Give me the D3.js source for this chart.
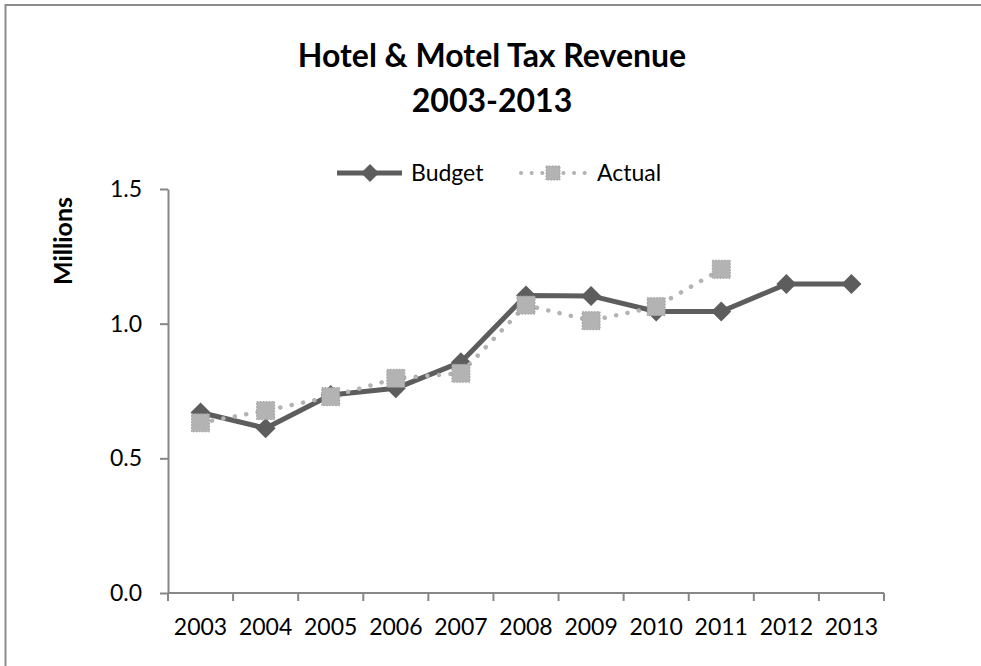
<!DOCTYPE html>
<html>
<head>
<meta charset="utf-8">
<script src="https://cdn.jsdelivr.net/npm/d3@7"></script>
<style>
  html, body { margin: 0; padding: 0; background: #fff; }
  svg { display: block; }
  text { font-family: Lato, "Open Sans", sans-serif; fill: #000; }
</style>
</head>
<body>
<svg id="chart" width="981" height="666"></svg>
<script>
// Hotel & Motel tax revenue, in millions of dollars
const years = ["2003", "2004", "2005", "2006", "2007", "2008", "2009", "2010", "2011", "2012", "2013"];
const budget = [0.670, 0.612, 0.735, 0.760, 0.857, 1.105, 1.103, 1.045, 1.045, 1.147, 1.147];
const actual = [0.632, 0.677, 0.729, 0.797, 0.816, 1.069, 1.011, 1.063, 1.202];
const yTicks = [0, 0.5, 1.0, 1.5];
const titleLines = ["Hotel & Motel Tax Revenue", "2003-2013"];
const seriesNames = ["Budget", "Actual"];

const svg = d3.select("#chart");
const W = 981, H = 666;
const plot = { left: 168, right: 884, top: 189, bottom: 593 };

const budgetColor = "#5d5d5d";
const actualColor = "#b3b3b3";
const axisColor = "#878787";

// chart frame
svg.append("rect")
  .attr("x", 5.5).attr("y", 5)
  .attr("width", W + 10).attr("height", H + 10)
  .attr("fill", "#fff")
  .attr("stroke", "#8c8c8c").attr("stroke-width", 2);

// scales
const x = d3.scaleBand().domain(years).range([plot.left, plot.right]).padding(0);
const y = d3.scaleLinear().domain([0, 1.5]).range([plot.bottom, plot.top]);
const cx = d => x(d) + x.bandwidth() / 2;

// title
svg.append("text")
  .attr("x", 492).attr("y", 67)
  .attr("text-anchor", "middle")
  .attr("font-weight", "bold").attr("font-size", 32)
  .text(titleLines[0]);
svg.append("text")
  .attr("x", 492).attr("y", 112)
  .attr("text-anchor", "middle")
  .attr("font-weight", "bold").attr("font-size", 32)
  .text(titleLines[1]);

// y axis
const yAxis = d3.axisLeft(y)
  .tickValues(yTicks)
  .tickFormat(d3.format(".1f"))
  .tickSizeInner(8).tickSizeOuter(0).tickPadding(18);
const gy = svg.append("g")
  .attr("transform", `translate(${plot.left},0)`)
  .call(yAxis);
gy.select(".domain").attr("stroke", axisColor).attr("stroke-width", 2);
gy.selectAll(".tick line").attr("stroke", axisColor).attr("stroke-width", 2);
gy.selectAll(".tick text").attr("font-size", 23).attr("fill", "#000")
  .style("font-family", "Lato, sans-serif");

// x axis: ticks sit on category boundaries
const gx = svg.append("g")
  .attr("transform", `translate(0,${plot.bottom})`);
gx.append("line")
  .attr("x1", plot.left).attr("x2", plot.right)
  .attr("stroke", axisColor).attr("stroke-width", 2);
const bounds = years.map(d => x(d)).concat([plot.right]);
gx.selectAll("line.tk").data(bounds).join("line")
  .attr("class", "tk")
  .attr("x1", d => d).attr("x2", d => d)
  .attr("y1", 0).attr("y2", 8)
  .attr("stroke", axisColor).attr("stroke-width", 2);
gx.selectAll("text").data(years).join("text")
  .attr("x", d => cx(d)).attr("y", 42)
  .attr("text-anchor", "middle")
  .attr("font-size", 23)
  .text(d => d);

// y axis title
svg.append("text")
  .attr("transform", `translate(72,241) rotate(-90)`)
  .attr("text-anchor", "middle")
  .attr("font-weight", "bold").attr("font-size", 25)
  .text("Millions");

// marker shapes
const diamond = (s) => `M0,${-s}L${s},0L0,${s}L${-s},0Z`;

// Budget series
const line = d3.line().x((d, i) => cx(years[i])).y(d => y(d));
svg.append("path")
  .datum(budget)
  .attr("d", line)
  .attr("fill", "none")
  .attr("stroke", budgetColor).attr("stroke-width", 5)
  .attr("stroke-linejoin", "round");
svg.selectAll("path.bm").data(budget).join("path")
  .attr("class", "bm")
  .attr("transform", (d, i) => `translate(${cx(years[i])},${y(d)})`)
  .attr("d", diamond(10))
  .attr("fill", budgetColor);

// Actual series
svg.append("path")
  .datum(actual)
  .attr("d", line)
  .attr("fill", "none")
  .attr("stroke", actualColor).attr("stroke-width", 4.5)
  .attr("stroke-linecap", "round")
  .attr("stroke-dasharray", "0.1 11.5");
const sq = 18;
svg.selectAll("rect.am").data(actual).join("rect")
  .attr("class", "am")
  .attr("x", (d, i) => cx(years[i]) - sq / 2)
  .attr("y", d => y(d) - sq / 2)
  .attr("width", sq).attr("height", sq)
  .attr("fill", actualColor)
  .attr("stroke", "#9c9c9c").attr("stroke-width", 1)
  .attr("stroke-dasharray", "1.5 1.5");

// legend
const lg = svg.append("g");
lg.append("line")
  .attr("x1", 337).attr("x2", 402).attr("y1", 173).attr("y2", 173)
  .attr("stroke", budgetColor).attr("stroke-width", 5);
lg.append("path")
  .attr("transform", "translate(370,173)")
  .attr("d", diamond(9))
  .attr("fill", budgetColor);
lg.append("text")
  .attr("x", 411).attr("y", 181)
  .attr("font-size", 23)
  .text(seriesNames[0]);
lg.append("line")
  .attr("x1", 521).attr("x2", 585).attr("y1", 173).attr("y2", 173)
  .attr("stroke", actualColor).attr("stroke-width", 4)
  .attr("stroke-linecap", "round")
  .attr("stroke-dasharray", "0.1 10.5");
lg.append("rect")
  .attr("x", 546).attr("y", 166).attr("width", 14).attr("height", 14)
  .attr("fill", actualColor)
  .attr("stroke", "#9c9c9c").attr("stroke-width", 1)
  .attr("stroke-dasharray", "1.5 1.5");
lg.append("text")
  .attr("x", 597).attr("y", 181)
  .attr("font-size", 23)
  .text(seriesNames[1]);
</script>
</body>
</html>
